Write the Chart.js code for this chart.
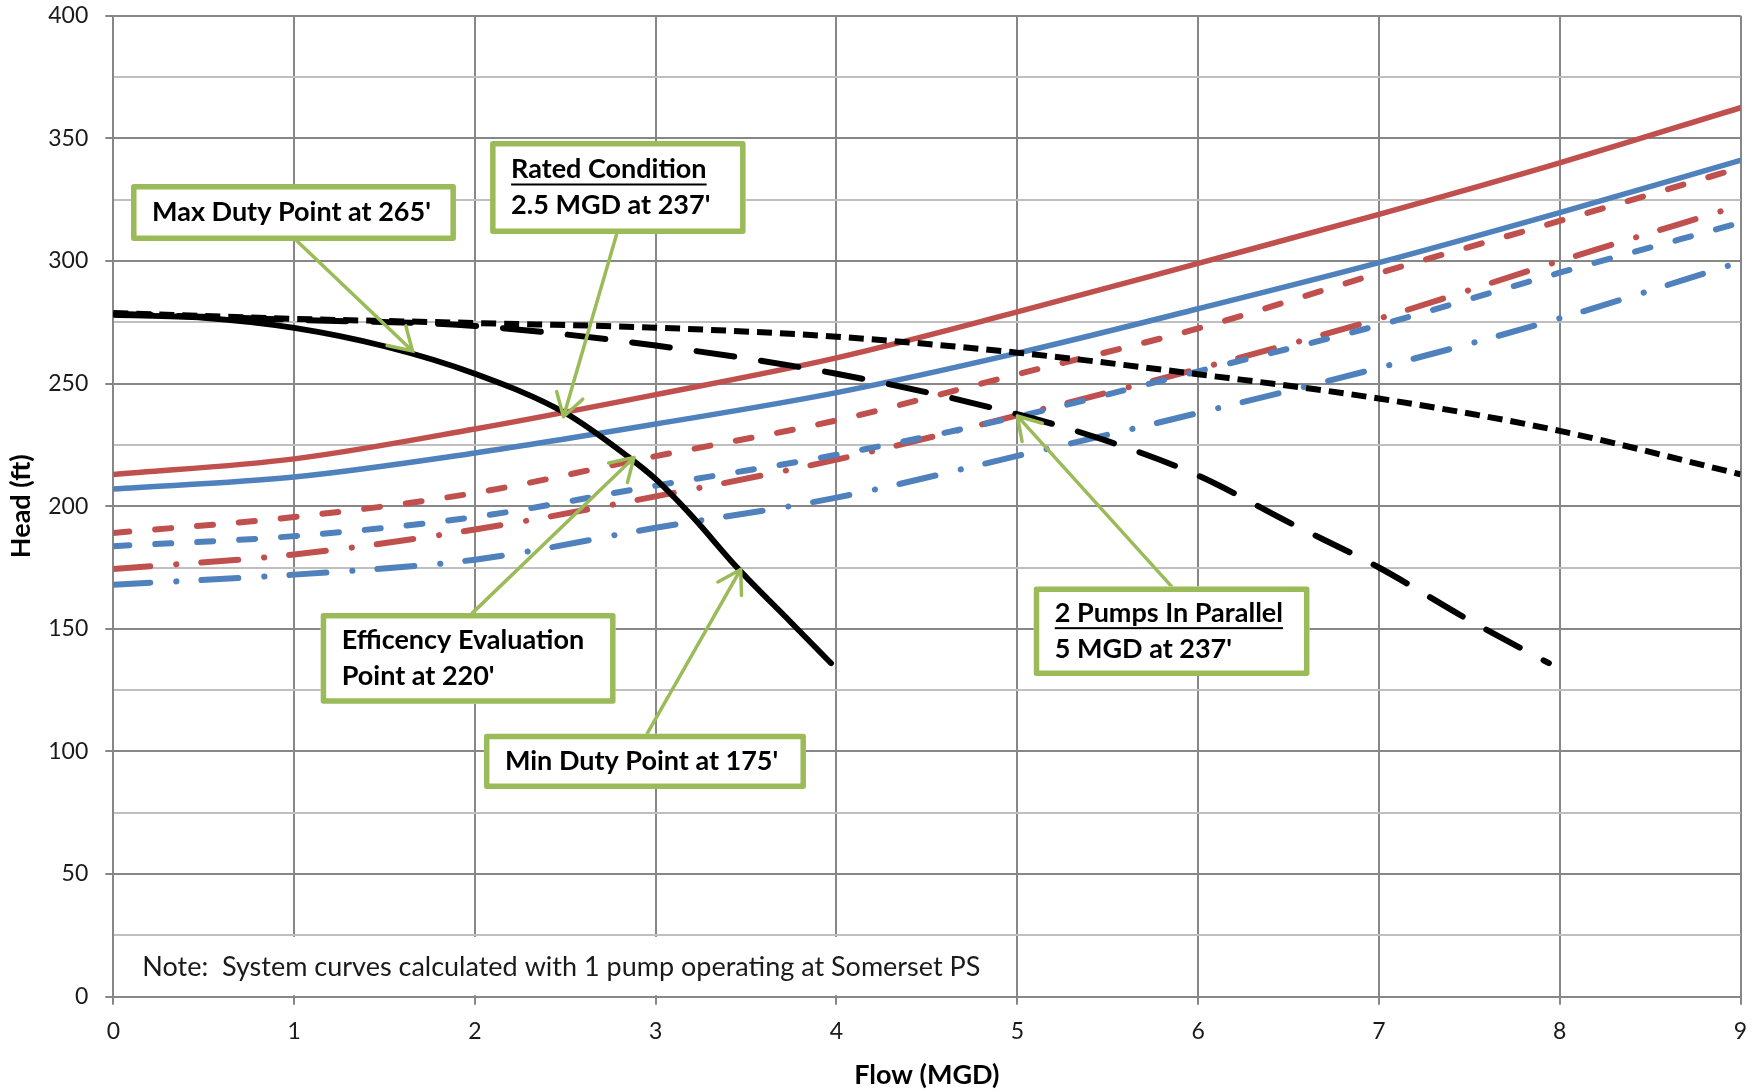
<!DOCTYPE html>
<html lang="en">
<head>
<meta charset="UTF-8">
<title>Pump and System Curves</title>
<script src="https://cdn.jsdelivr.net/npm/chart.js"></script>
<style>
  html, body { margin: 0; padding: 0; background: #fff; }
</style>
</head>
<body>
<canvas id="pumpChart" width="1758" height="1092"></canvas>
<script>
const flowSystem      = [0, 1, 2, 3, 4, 5, 6, 7, 8, 9];
const headRedSolid    = [212.9, 219.3, 231.5, 245.5, 260.5, 279.2, 299, 319, 340, 362.5];
const headBlueSolid   = [207, 211.9, 221.7, 233.5, 246.3, 262.4, 280.5, 299.3, 319.7, 341];
const headRedDash     = [189.1, 195.6, 205.4, 220.4, 235, 253.8, 272.5, 295, 316.3, 338];
const headBlueDash    = [183.7, 187.8, 195.6, 208.4, 221, 236.5, 255, 273.8, 295.2, 315.6];
const headRedDashDot  = [174.4, 180.3, 190.5, 204, 219, 237, 256, 276.5, 300, 322.7];
const headBlueDashDot = [168, 172.1, 178.2, 191.2, 203.5, 220.5, 238, 256.4, 276.6, 299.6];

// Pump curves
const flowOnePump    = [0, 0.5, 1, 1.5, 2, 2.5, 2.85, 3, 3.2, 3.45, 3.75, 3.97];
const headOnePump    = [278, 276.8, 272.7, 265.2, 254, 238, 220, 211, 196, 175, 152.5, 136];
const flowTwoPumps   = [0, 1, 2, 3, 4, 5, 5.5, 6, 6.5, 7, 7.5, 7.94];
const headTwoPumps   = [278.5, 276, 273.5, 265.5, 254, 237.5, 226.5, 212.5, 193.5, 175, 153.5, 136];
const flowThreePumps = [0, 1, 2, 3, 4, 5, 6, 7, 8, 9];
const headThreePumps = [278.8, 276.4, 274.7, 272.8, 269.1, 262.6, 253.8, 243.9, 230.7, 213];

// Axis ticks
const flowTicks = [0, 1, 2, 3, 4, 5, 6, 7, 8, 9];
const headTicks = [0, 50, 100, 150, 200, 250, 300, 350, 400];

const noteText = 'Note:  System curves calculated with 1 pump operating at Somerset PS';

// callout boxes: [x1, yTop, x2, yBottom] in MGD / ft, arrow from box edge to curve point
const callouts = [
  { lines: ["Max Duty Point at 265'"], underline: false,
    box: [0.098, 331.4, 1.895, 308.1], from: [1.016, 308.1], to: [1.655, 263.3] },
  { lines: ['Rated Condition', "2.5 MGD at 237'"], underline: true,
    box: [2.084, 348.9, 3.497, 311.0], from: [2.784, 310.9], to: [2.49, 236.5] },
  { lines: ['Efficency Evaluation', "Point at 220'"], underline: false,
    box: [1.147, 156.5, 2.778, 119.4], from: [1.984, 156.3], to: [2.88, 219.9] },
  { lines: ["Min Duty Point at 175'"], underline: false,
    box: [2.050, 107.2, 3.831, 84.7], from: [2.952, 107.2], to: [3.47, 174.2] },
  { lines: ['2 Pumps In Parallel', "5 MGD at 237'"], underline: true,
    box: [5.091, 167.3, 6.616, 130.8], from: [5.853, 167.3], to: [5.0, 236.8] }
];

const RED = '#C0504D';
const BLUE = '#4F81BD';
const GREEN = '#9BBB59';
const GRID = '#878787';
const GRID_MINOR = '#BFBFBF';
const FONT = 'Lato, "Open Sans", sans-serif';

function pts(xs, ys) {
  return xs.map((x, i) => ({ x: x, y: ys[i] }));
}

function series(label, xs, ys, color, dash, width, cap) {
  return {
    label: label,
    data: pts(xs, ys),
    borderColor: color,
    borderWidth: width || 5.3,
    borderDash: dash || [],
    borderCapStyle: cap || 'round',
    pointRadius: 0,
    fill: false,
    cubicInterpolationMode: 'monotone'
  };
}

const DASH = [16, 26];
const DASH_DOT = [37, 26, 0.2, 25];

// white box behind the note, then the callouts on top of the curves
const notesPlugin = {
  id: 'notes',
  beforeDatasetsDraw(chart) {
    const { ctx, scales: { x, y } } = chart;
    ctx.save();
    ctx.fillStyle = '#fff';
    const top = y.getPixelForValue(25) + 1.5;
    const bot = y.getPixelForValue(0) - 1.5;
    ctx.fillRect(x.getPixelForValue(0) + 1.5, top, x.getPixelForValue(4.85) - x.getPixelForValue(0), bot - top);
    ctx.fillStyle = '#1a1a1a';
    ctx.font = '27px ' + FONT;
    ctx.textBaseline = 'middle';
    ctx.fillText(noteText, x.getPixelForValue(0) + 29, (top + bot) / 2 + 1);
    ctx.restore();
  },
  afterDatasetsDraw(chart) {
    const { ctx, scales: { x, y } } = chart;
    ctx.save();
    callouts.forEach(c => {
      // arrow
      const fx = x.getPixelForValue(c.from[0]), fy = y.getPixelForValue(c.from[1]);
      const tx = x.getPixelForValue(c.to[0]), ty = y.getPixelForValue(c.to[1]);
      ctx.strokeStyle = GREEN;
      ctx.lineWidth = 3.5;
      ctx.lineCap = 'round';
      ctx.beginPath();
      ctx.moveTo(fx, fy);
      ctx.lineTo(tx, ty);
      const ang = Math.atan2(ty - fy, tx - fx);
      const len = 26, spread = 0.55;
      ctx.moveTo(tx - len * Math.cos(ang - spread), ty - len * Math.sin(ang - spread));
      ctx.lineTo(tx, ty);
      ctx.lineTo(tx - len * Math.cos(ang + spread), ty - len * Math.sin(ang + spread));
      ctx.stroke();

      // box
      const bx1 = x.getPixelForValue(c.box[0]), by1 = y.getPixelForValue(c.box[1]);
      const bx2 = x.getPixelForValue(c.box[2]), by2 = y.getPixelForValue(c.box[3]);
      const lw = 5.5;
      ctx.fillStyle = '#fff';
      ctx.fillRect(bx1, by1, bx2 - bx1, by2 - by1);
      ctx.lineWidth = lw;
      ctx.lineJoin = 'round';
      ctx.strokeRect(bx1 + lw / 2, by1 + lw / 2, bx2 - bx1 - lw, by2 - by1 - lw);

      // text
      ctx.fillStyle = '#000';
      ctx.font = 'bold 27px ' + FONT;
      ctx.textBaseline = 'middle';
      const cy = (by1 + by2) / 2;
      const n = c.lines.length;
      c.lines.forEach((t, i) => {
        const ly = cy + (i - (n - 1) / 2) * 36;
        const lx = bx1 + 21;
        ctx.fillText(t, lx, ly);
        if (c.underline && i === 0) {
          const w = ctx.measureText(t).width;
          ctx.fillRect(lx, ly + 14, w, 2);
        }
      });
    });
    ctx.restore();
  }
};

new Chart(document.getElementById('pumpChart').getContext('2d'), {
  type: 'line',
  data: {
    datasets: [
      series('1 Pump', flowOnePump, headOnePump, '#000', [], 5.8),
      series('2 Pumps', flowTwoPumps, headTwoPumps, '#000', [38, 27], 6),
      series('3 Pumps', flowThreePumps, headThreePumps, '#000', [15, 8], 6, 'butt'),
      series('System A', flowSystem, headRedSolid, RED, [], 5.5),
      series('System B', flowSystem, headBlueSolid, BLUE, [], 5.5),
      series('System C', flowSystem, headRedDash, RED, DASH, 6),
      series('System D', flowSystem, headBlueDash, BLUE, DASH, 6),
      series('System E', flowSystem, headRedDashDot, RED, DASH_DOT, 6),
      series('System F', flowSystem, headBlueDashDot, BLUE, DASH_DOT, 6)
    ]
  },
  options: {
    responsive: false,
    animation: false,
    layout: { padding: { left: 0, right: 17.5, top: 15.7, bottom: 0 } },
    plugins: { legend: { display: false }, tooltip: { enabled: false } },
    scales: {
      x: {
        type: 'linear',
        min: 0, max: 9,
        afterFit: s => { s.height = 95.3; s.paddingLeft = 0; s.paddingRight = 0; },
        afterBuildTicks: s => { s.ticks = flowTicks.map(v => ({ value: v })); },
        ticks: { color: '#1a1a1a', font: { family: FONT, size: 23 }, padding: 13, maxRotation: 0 },
        grid: { color: GRID, lineWidth: 2, tickLength: 8, tickColor: GRID },
        border: { color: GRID, width: 2 },
        title: { display: true, text: 'Flow (MGD)', color: '#000',
                 font: { family: FONT, size: 27, weight: 'bold' }, padding: { top: 0, bottom: 1 } }
      },
      y: {
        min: 0, max: 400,
        afterFit: s => { s.width = 113.3; s.paddingTop = 0; s.paddingBottom = 0; },
        afterBuildTicks: s => {
          const t = [];
          for (let v = 0; v <= 400; v += 25) t.push({ value: v });
          s.ticks = t;
        },
        ticks: {
          color: '#1a1a1a', font: { family: FONT, size: 23 }, padding: 17, autoSkip: false,
          callback: v => headTicks.includes(v) ? String(v) : ''
        },
        grid: {
          lineWidth: 2, tickLength: 8,
          color: c => (c.tick && c.tick.value % 50 === 0) ? GRID : GRID_MINOR,
          tickColor: c => (c.tick && c.tick.value % 50 === 0) ? GRID : 'rgba(0,0,0,0)'
        },
        border: { color: GRID, width: 2 },
        title: { display: true, text: 'Head (ft)', color: '#000',
                 font: { family: FONT, size: 27, weight: 'bold' }, padding: { top: 5, bottom: 0 } }
      }
    }
  },
  plugins: [notesPlugin]
});
</script>
</body>
</html>
